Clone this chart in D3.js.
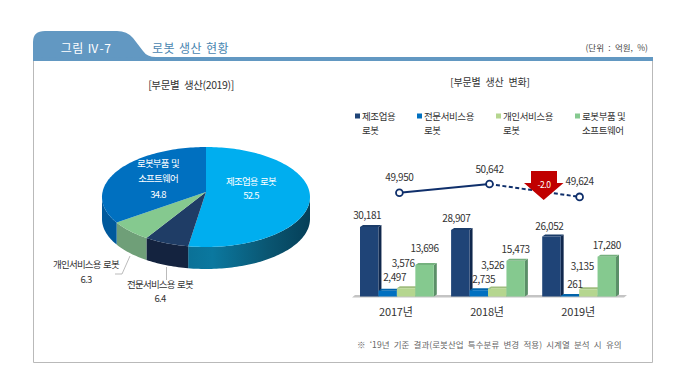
<!DOCTYPE html>
<html>
<head>
<meta charset="utf-8">
<script src="https://cdn.jsdelivr.net/npm/d3@7"></script>
<style>
  body { margin: 0; background: #fff; }
  svg { display: block; }
  text { font-family: "Noto Sans CJK KR", sans-serif; }
</style>
</head>
<body>
<svg id="chart" width="684" height="387"></svg>
<script>
// data
const pieNames = ["제조업용 로봇", "전문서비스용 로봇", "개인서비스용 로봇", "로봇부품 및 소프트웨어"]
const pieShares = [52.5, 6.4, 6.3, 34.8]
const pieTop = ["#00aeef", "#1f3d66", "#85c98f", "#0070c0"]
const pieSide = ["url(#wall)", "#14233f", "#6f9f78", "#00599c"]

const years = ["2017년", "2018년", "2019년"]
const seriesNames = ["제조업용 로봇", "전문서비스용 로봇", "개인서비스용 로봇", "로봇부품 및 소프트웨어"]
const manufacturing = [30181, 28907, 26052]
const service = [2497, 2735, 261]
const personal = [3576, 3526, 3135]
const parts = [13696, 15473, 17280]
const totals = [49950, 50642, 49624]

const barFront = ["#1f4477", "#0070c0", "#b5d68f", "#85c98f"]
const barSide = ["#10284d", "#004f8a", "#8aa870", "#5b8f68"]

const svg = d3.select("#chart")

function label(x, y, str, size, color, anchor) {
  return svg.append("text")
    .attr("x", x).attr("y", y)
    .attr("text-anchor", anchor || "middle")
    .attr("dominant-baseline", "central")
    .attr("font-size", size)
    .attr("letter-spacing", "-0.4")
    .attr("fill", color || "#333")
    .text(str)
}

// header and frame
svg.append("path")
  .attr("d", "M33.5 60V362.5H652.5V60")
  .attr("fill", "none").attr("stroke", "#b9b9b9").attr("stroke-width", 1)
svg.append("rect").attr("x", 33).attr("y", 57).attr("width", 620).attr("height", 4).attr("fill", "#6298c2")
svg.append("path")
  .attr("d", "M33 58V42Q33 31 45 31H117Q127 31 133 38L143 51Q147 57 156 57Z")
  .attr("fill", "#6298c2")
label(86, 47, "그림 Ⅳ-7", 12, "#fff").attr("letter-spacing", "0.5")
label(152, 47, "로봇 생산 현황", 12, "#4a86b0", "start").attr("letter-spacing", "0.4").attr("word-spacing", "1")
label(648, 47, "(단위 : 억원, %)", 8.5, "#444", "end").attr("letter-spacing", "0").attr("word-spacing", "2.4")
label(191, 84, "[부문별 생산(2019)]", 10.5).attr("word-spacing", "3")
label(490, 81, "[부문별 생산 변화]", 10).attr("letter-spacing", "-0.2").attr("word-spacing", "3")

// ---- 3D pie
const defs = svg.append("defs")
const wall = defs.append("linearGradient").attr("id", "wall")
wall.append("stop").attr("offset", 0).attr("stop-color", "#0a7197")
wall.append("stop").attr("offset", 0.2).attr("stop-color", "#0b789f")
wall.append("stop").attr("offset", 0.65).attr("stop-color", "#0a5672")
wall.append("stop").attr("offset", 1).attr("stop-color", "#053f58")

const cx = 206, cy = 197, rx = 104, ry = 50, apexY = 192, depth = 22
// the tilt makes lower wedges look wider than their true angle
const view = t => t - 0.096 * Math.sin(t)
const arcs = d3.pie().sort(null)(pieShares)
const rim = t => [cx + rx * Math.sin(t), cy - ry * Math.cos(t)]
const line = d3.line()

function sample(a, b) {
  const n = Math.max(2, Math.ceil((b - a) * 40))
  return d3.range(n + 1).map(i => a + (b - a) * i / n)
}

// outer walls, only the part facing us
arcs.forEach((d, i) => {
  const a = Math.max(view(d.startAngle), Math.PI / 2)
  const b = Math.min(view(d.endAngle), Math.PI * 1.5)
  if (b <= a) return
  const top = sample(a, b).map(rim)
  const bottom = top.map(p => [p[0], p[1] + depth]).reverse()
  svg.append("path")
    .attr("d", line(top.concat(bottom)) + "Z")
    .attr("fill", pieSide[i])
})
// top faces
arcs.forEach((d, i) => {
  const pts = [[cx, apexY]].concat(sample(view(d.startAngle), view(d.endAngle)).map(rim))
  svg.append("path")
    .attr("d", line(pts) + "Z")
    .attr("fill", pieTop[i])
})

function pieLabel(x, y, str, color) {
  return label(x, y, str, 9.5, color).attr("letter-spacing", "-0.8").attr("word-spacing", "1")
}
pieLabel(251, 181, "제조업용 로봇", "#fff")
pieLabel(251, 195, "52.5", "#fff")
pieLabel(158, 163, "로봇부품 및", "#fff")
pieLabel(158, 178, "소프트웨어", "#fff")
pieLabel(158, 194, "34.8", "#fff")
pieLabel(86, 264, "개인서비스용 로봇")
pieLabel(86, 279, "6.3")
pieLabel(160, 284, "전문서비스용 로봇")
pieLabel(160, 298, "6.4")
svg.append("path").attr("d", "M130 256L122 274H115").attr("fill", "none").attr("stroke", "#aaa").attr("stroke-width", 0.8)
svg.append("path").attr("d", "M166.5 267V280").attr("fill", "none").attr("stroke", "#aaa").attr("stroke-width", 0.8)

// ---- legend
const legendX = [355, 417, 496, 575]
const legendLines = [["제조업용", "로봇"], ["전문서비스용", "로봇"], ["개인서비스용", "로봇"], ["로봇부품 및", "소프트웨어"]]
seriesNames.forEach((s, i) => {
  svg.append("rect").attr("x", legendX[i]).attr("y", 113.5).attr("width", 5).attr("height", 5).attr("fill", barFront[i])
  legendLines[i].forEach((t, j) => label(legendX[i] + 7, 116 + j * 14, t, 9.5, "#333", "start"))
})

// ---- total line
const x0 = d3.scaleBand().domain(years).range([360, 616]).paddingInner(0.19)
const x1 = d3.scaleBand().domain(d3.range(4)).range([0, x0.bandwidth()])
const yLine = d3.scaleLinear().domain([49000, 51000]).range([204.8, 179.5])
const lineX = (d, i) => x0(years[i]) + x0.bandwidth() / 2 + 2.5 - i

const solid = d3.line().x((d, i) => lineX(d, i)).y(d => yLine(d))
svg.append("path").attr("d", solid(totals.slice(0, 2)))
  .attr("fill", "none").attr("stroke", "#0f2f6b").attr("stroke-width", 2)
svg.append("path")
  .attr("d", d3.line().x((d, i) => lineX(d, i + 1)).y(d => yLine(d))(totals.slice(1)))
  .attr("fill", "none").attr("stroke", "#0f2f6b").attr("stroke-width", 2).attr("stroke-dasharray", "4 2.5")

svg.selectAll(".dot").data(totals).join("circle")
  .attr("class", "dot")
  .attr("cx", (d, i) => lineX(d, i)).attr("cy", d => yLine(d)).attr("r", 3.4)
  .attr("fill", "#fff").attr("stroke", "#0f2f6b").attr("stroke-width", 1.8)

const totalNudge = [-16, -16, -16]
totals.forEach((v, i) => label(lineX(v, i), yLine(v) + totalNudge[i], d3.format(",")(v), 10))

// change arrow
svg.append("path")
  .attr("d", "M531 171H557V183H563.5L543.7 200L524 183H531Z")
  .attr("fill", "#c00000")
label(544, 184, "-2.0", 8.5, "#fff")

// ---- bars
const series = [manufacturing, service, personal, parts]
const yBar = d3.scaleLinear().domain([0, 30181]).range([296.5, 227])
const sideW = 3, capH = 2

svg.append("path").attr("d", "M352 297.5L355 295H627L624 297.5Z").attr("fill", "#c4c4c4")

series.forEach((vals, s) => {
  const g = svg.append("g")
  vals.forEach((v, i) => {
    const x = x0(years[i]) + x1(s), w = x1.bandwidth(), y = yBar(v), b = yBar(0)
    g.append("path")
      .attr("d", `M${x + w} ${y}L${x + w + sideW} ${y - capH}V${b - capH}L${x + w} ${b}Z`)
      .attr("fill", barSide[s])
    g.append("path")
      .attr("d", `M${x} ${y}L${x + sideW} ${y - capH}H${x + w + sideW}L${x + w} ${y}Z`)
      .attr("fill", d3.color(barFront[s]).darker(0.35))
    g.append("rect").attr("x", x).attr("y", y).attr("width", w).attr("height", b - y).attr("fill", barFront[s])
  })
})

// hand placed value labels, same as the source layout
const labelDx = [[-2, -4, -2], [7, 5, 5], [-3, -4.5, -6], [0, 0, 0]]
const labelDy = [[-13, -12, -11], [-14, -12, -12], [-26, -24, -24], [-17, -12, -12]]
series.forEach((vals, s) => vals.forEach((v, i) => {
  label(x0(years[i]) + x1(s) + x1.bandwidth() / 2 + labelDx[s][i], yBar(v) + labelDy[s][i], d3.format(",")(v), 10)
}))

years.forEach((y, i) => label(x0(y) + x0.bandwidth() / 2 - 1, 311, y, 11).attr("letter-spacing", "-0.2"))

label(357, 344, "※ ‘19년 기준 결과(로봇산업 특수분류 변경 적용) 시계열 분석 시 유의", 8.5, "#666", "start")
  .attr("letter-spacing", "0.05").attr("word-spacing", "2.2")
</script>
</body>
</html>
